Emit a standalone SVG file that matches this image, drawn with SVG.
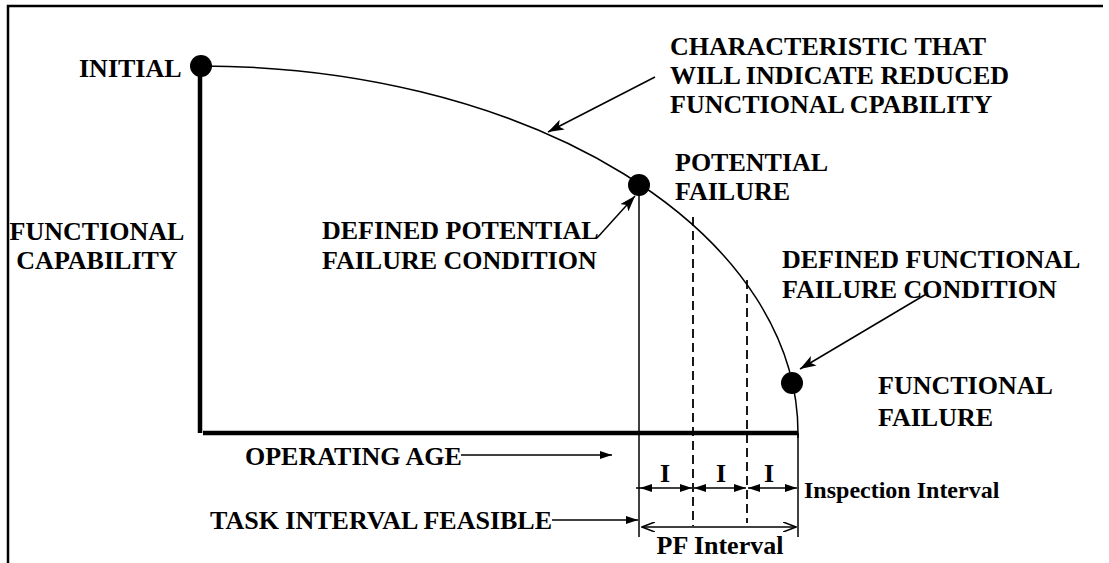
<svg xmlns="http://www.w3.org/2000/svg" width="1109" height="563" viewBox="0 0 1109 563">
<defs>
<style>
text{font-family:"Liberation Serif","Times New Roman",serif;font-weight:bold;fill:#000;font-size:26px}
.thin{stroke:#000;stroke-width:1.5;fill:none}
.dash{stroke:#000;stroke-width:1.8;fill:none;stroke-dasharray:9 5}
.axis{stroke:#000;stroke-width:4.5;fill:none}
.dot{fill:#000}
</style>
<marker id="fa" viewBox="0 0 12 8" refX="12" refY="4" markerWidth="12" markerHeight="8" markerUnits="userSpaceOnUse" orient="auto-start-reverse">
<path d="M0,0 L12,4 L0,8 Z" fill="#000"/>
</marker>
<marker id="ba" viewBox="0 0 16 11" refX="16" refY="5.5" markerWidth="16" markerHeight="11" markerUnits="userSpaceOnUse" orient="auto">
<path d="M0,0 L16,5.5 L0,11 L4,5.5 Z" fill="#000"/>
</marker>
<marker id="oa" viewBox="0 0 14 10" refX="13" refY="5" markerWidth="14" markerHeight="10" markerUnits="userSpaceOnUse" orient="auto-start-reverse">
<path d="M0,0 L13,5 L0,10" fill="none" stroke="#000" stroke-width="1.6"/>
</marker>
</defs>
<rect width="1109" height="563" fill="#fff"/>
<g id="frame">
<path d="M8,563 L8,6 L1103,6" fill="none" stroke="#000" stroke-width="2.5"/>
</g>
<g id="axes">
<line class="axis" x1="200" y1="66" x2="200" y2="433"/>
<line class="axis" x1="203" y1="433" x2="798" y2="433"/>
</g>
<g id="connectors">
<path class="thin" d="M201,66 A597,367 0 0 1 798,433 L798,438"/>
<line class="thin" x1="639" y1="185" x2="639" y2="537"/>
<line class="dash" x1="693" y1="217" x2="693" y2="526"/>
<line class="dash" x1="747" y1="280" x2="747" y2="523"/>
<line class="thin" x1="798" y1="433" x2="798" y2="537"/>
<line class="thin" x1="636" y1="488" x2="640" y2="488"/>
<line class="thin" x1="640" y1="488" x2="692" y2="488" marker-start="url(#fa)" marker-end="url(#fa)"/>
<line class="thin" x1="694" y1="488" x2="746" y2="488" marker-start="url(#fa)" marker-end="url(#fa)"/>
<line class="thin" x1="748" y1="488" x2="797" y2="488" marker-start="url(#fa)" marker-end="url(#fa)"/>
<line class="thin" x1="642" y1="527" x2="796" y2="527" marker-start="url(#oa)" marker-end="url(#oa)"/>
<line class="thin" x1="461" y1="455" x2="612" y2="455" marker-end="url(#fa)"/>
<line class="thin" x1="552" y1="520" x2="638" y2="520" marker-end="url(#fa)"/>
<line class="thin" x1="655" y1="77" x2="548" y2="132" marker-end="url(#ba)"/>
<line class="thin" x1="597" y1="238" x2="635" y2="196" marker-end="url(#ba)"/>
<line class="thin" x1="928" y1="293" x2="800" y2="369" marker-end="url(#ba)"/>
</g>
<g id="initial">
<circle class="dot" cx="201" cy="66" r="11"/>
<text x="79" y="77">INITIAL</text>
</g>
<g id="characteristic">
<text x="670" y="55">CHARACTERISTIC THAT</text>
<text x="670" y="84">WILL INDICATE REDUCED</text>
<text x="670" y="113">FUNCTIONAL CPABILITY</text>
</g>
<g id="potential-failure">
<circle class="dot" cx="639" cy="185" r="11"/>
<text x="675" y="171">POTENTIAL</text>
<text x="675" y="200">FAILURE</text>
</g>
<g id="functional-capability">
<text x="97" y="240" text-anchor="middle">FUNCTIONAL</text>
<text x="97" y="269" text-anchor="middle">CAPABILITY</text>
</g>
<g id="defined-potential">
<text x="322" y="239">DEFINED POTENTIAL</text>
<text x="322" y="269">FAILURE CONDITION</text>
</g>
<g id="defined-functional">
<text x="782" y="268">DEFINED FUNCTIONAL</text>
<text x="782" y="298">FAILURE CONDITION</text>
</g>
<g id="functional-failure">
<circle class="dot" cx="792" cy="383" r="11"/>
<text x="878" y="394">FUNCTIONAL</text>
<text x="878" y="426">FAILURE</text>
</g>
<g id="operating-age">
<text x="245" y="465">OPERATING AGE</text>
</g>
<g id="task-interval">
<text x="210" y="529">TASK INTERVAL FEASIBLE</text>
</g>
<g id="inspection">
<text x="665" y="482" text-anchor="middle">I</text>
<text x="721" y="482" text-anchor="middle">I</text>
<text x="769" y="482" text-anchor="middle">I</text>
<text x="804" y="498" style="font-size:24px">Inspection Interval</text>
</g>
<g id="pf">
<text x="720" y="554" text-anchor="middle">PF Interval</text>
</g>
</svg>
